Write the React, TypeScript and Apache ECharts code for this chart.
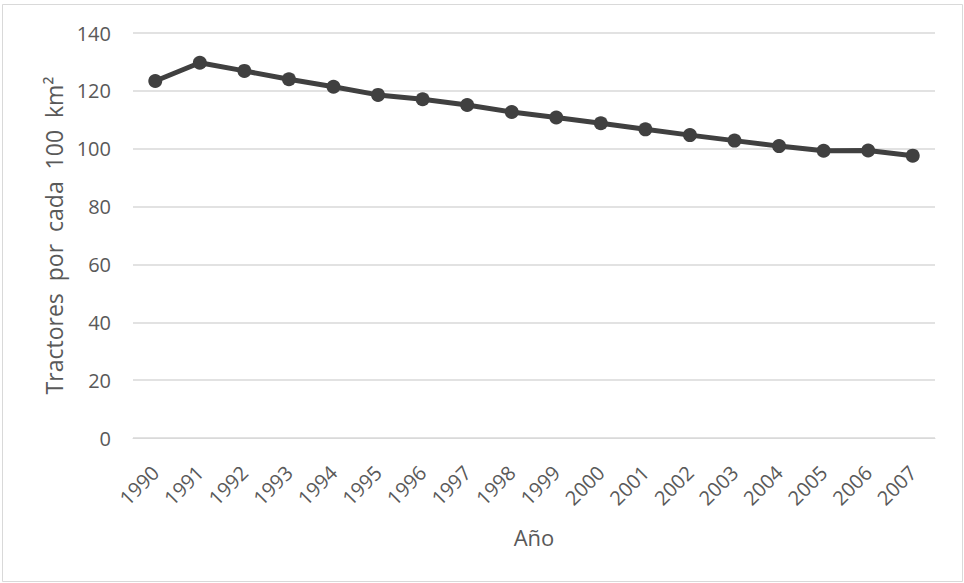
import React, { useEffect, useRef } from "react";
import * as echarts from "echarts";

// Tractores por cada 100 km² de tierra cultivable, 1990–2007
const years = [
  "1990", "1991", "1992", "1993", "1994", "1995", "1996", "1997", "1998",
  "1999", "2000", "2001", "2002", "2003", "2004", "2005", "2006", "2007",
];
const tractors = [
  123.4, 129.7, 126.9, 124.0, 121.4, 118.6, 117.1, 115.1, 112.7,
  110.8, 108.8, 106.7, 104.7, 102.8, 100.9, 99.3, 99.4, 97.6,
];
const yTicks = { min: 0, max: 140, interval: 20 };

const FONT = "'Open Sans', 'Noto Sans', sans-serif";
const TEXT = "#595959";

export default function App() {
  const ref = useRef<HTMLDivElement>(null);

  useEffect(() => {
    if (!ref.current) return;
    const chart = echarts.init(ref.current, undefined, { renderer: "svg" });
    chart.setOption({
      animation: false,
      backgroundColor: "#ffffff",
      textStyle: { fontFamily: FONT },
      graphic: [
        {
          type: "rect",
          shape: { x: 2.5, y: 4.5, width: 960, height: 577 },
          style: { fill: "none", stroke: "#d9d9d9", lineWidth: 1 },
          silent: true,
        },
      ],
      grid: { left: 133, right: 29, top: 33, bottom: 145 },
      xAxis: {
        type: "category",
        data: years,
        boundaryGap: true,
        name: "Año",
        nameLocation: "middle",
        nameGap: 88,
        nameTextStyle: { color: TEXT, fontSize: 22, fontFamily: FONT },
        axisLine: { show: true, lineStyle: { color: "#d9d9d9", width: 1 } },
        axisTick: { show: false },
        axisLabel: {
          rotate: 45,
          margin: 31,
          color: TEXT,
          fontSize: 20,
          fontFamily: FONT,
          interval: 0,
        },
        splitLine: { show: false },
      },
      yAxis: {
        type: "value",
        min: yTicks.min,
        max: yTicks.max,
        interval: yTicks.interval,
        name: "Tractores  por  cada  100  km²",
        nameLocation: "middle",
        nameGap: 63,
        nameTextStyle: { color: TEXT, fontSize: 23, fontFamily: FONT },
        axisLine: { show: false },
        axisTick: { show: false },
        axisLabel: { margin: 22, color: TEXT, fontSize: 20, fontFamily: FONT },
        splitLine: { show: true, lineStyle: { color: "#d9d9d9", width: 1.5 } },
      },
      series: [
        {
          type: "line",
          data: tractors,
          symbol: "circle",
          symbolSize: 14,
          lineStyle: { color: "#404040", width: 5 },
          itemStyle: { color: "#404040" },
        },
      ],
    });
    return () => chart.dispose();
  }, []);

  return (
    <div
      ref={ref}
      style={{ position: "absolute", left: 0, top: 0, width: 964, height: 583 }}
    />
  );
}
